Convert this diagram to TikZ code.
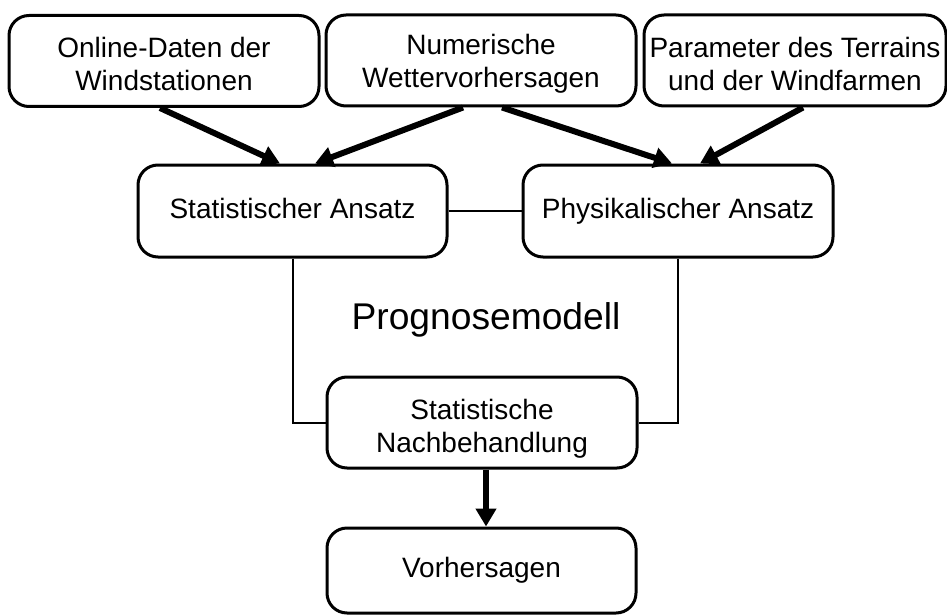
\documentclass[tikz,border=0pt]{standalone}
\usepackage{fontspec}
\setmainfont{Liberation Sans}
\usetikzlibrary{arrows.meta}
\newcommand{\padA}{\rule{0pt}{13.2pt}}
\newcommand{\padB}{\rule{0pt}{16.2pt}}
\begin{document}
\begin{tikzpicture}[x=0.5pt,y=-0.5pt,
  box/.style={draw,line width=1.5pt,rounded corners=10pt,align=center,inner sep=0pt,
    font=\fontsize{14pt}{16.5pt}\selectfont},
  oneline/.style={text height=0.72em,text depth=0pt},
  fat/.style={line width=3pt,-{Triangle[length=9pt,width=10pt]}},
  thin/.style={line width=1pt}]
\useasboundingbox (0,0) rectangle (947,615);
\node[box,minimum width=155pt,minimum height=45.5pt] (b1) at (164,61) {\padA Online-Daten der\\Windstationen};
\node[box,minimum width=155pt,minimum height=45.5pt] (b2) at (481,60.5) {\padA Numerische\\Wettervorhersagen};
\node[box,minimum width=151pt,minimum height=45.5pt] (b3) at (795,60.5) {\padA Parameter des Terrains\\und der Windfarmen};
\node[box,oneline,minimum width=154.5pt,minimum height=46pt] (stat) at (292.5,211) {Statistischer Ansatz};
\node[box,oneline,minimum width=155pt,minimum height=46pt] (phys) at (678,211) {Physikalischer Ansatz};
\node[box,minimum width=155pt,minimum height=45.5pt] (nach) at (482,422.5) {\padB Statistische\\Nachbehandlung};
\node[box,oneline,minimum width=154.5pt,minimum height=42.5pt] (vorh) at (481.5,570.5) {Vorhersagen};
\node[anchor=base,inner sep=0pt,font=\fontsize{18.6pt}{22pt}\selectfont] (prog) at (486,329) {Prognosemodell};
\draw[fat] ([xshift=-2pt]b1.south) -- ([xshift=-6.25pt]stat.north);
\draw[fat] ([xshift=-9pt]b2.south) -- ([xshift=11.25pt]stat.north);
\draw[fat] ([xshift=10.5pt]b2.south) -- ([xshift=-3pt]phys.north);
\draw[fat] ([xshift=4pt]b3.south) -- ([xshift=11pt]phys.north);
\draw[thin] (stat.east) -- (phys.west);
\draw[thin] (stat.south) |- (nach.west);
\draw[thin] (phys.south) |- (nach.east);
\draw[fat] ([xshift=2pt]nach.south) -- ([xshift=2.25pt]vorh.north);
\end{tikzpicture}
\end{document}
